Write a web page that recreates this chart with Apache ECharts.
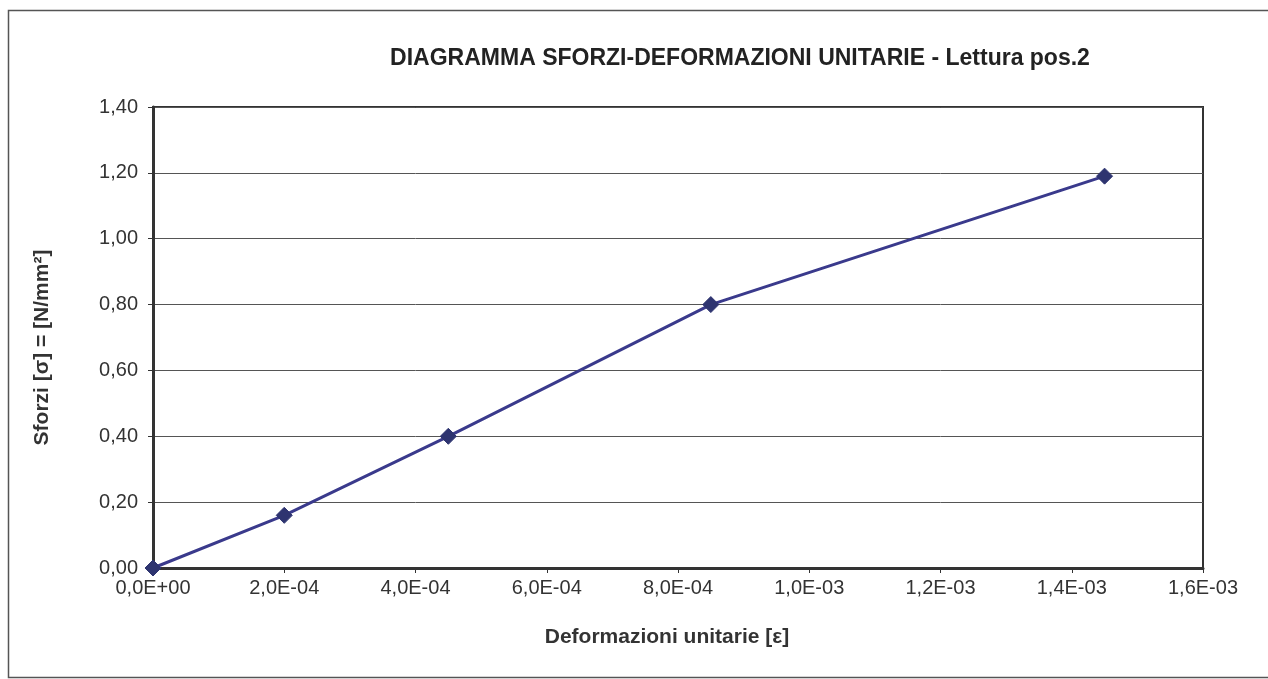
<!DOCTYPE html>
<html><head><meta charset="utf-8">
<script src="https://cdn.jsdelivr.net/npm/echarts@6/dist/echarts.min.js"></script>
<style>html,body{margin:0;padding:0;background:#fff;}#c{width:1268px;height:679px;}</style>
</head><body><div id="c"></div>
<script>
const strain = [0, 2.0e-4, 4.5e-4, 8.5e-4, 1.45e-3];
const stress = [0, 0.16, 0.40, 0.80, 1.19];
const titleText = 'DIAGRAMMA SFORZI-DEFORMAZIONI UNITARIE - Lettura pos.2';
const xName = 'Deformazioni unitarie [ε]';
const yName = 'Sforzi [σ] = [N/mm²]';

const chart = echarts.init(document.getElementById('c'));
const font = '"Liberation Sans", Arial, sans-serif';
function fmtX(v){
  if (v === 0) return '0,0E+00';
  const e = Math.floor(Math.log10(Math.abs(v)) + 1e-9);
  const m = v / Math.pow(10, e);
  const es = (e < 0 ? '-' : '+') + String(Math.abs(e)).padStart(2, '0');
  return m.toFixed(1).replace('.', ',') + 'E' + es;
}
chart.setOption({
  animation: false,
  backgroundColor: '#fff',
  graphic: [{type:'rect', shape:{x:8.5,y:10.5,width:1300,height:667}, style:{fill:'none', stroke:'#555', lineWidth:1.5}, silent:true}],
  title: {text: titleText, left: 735, top: 42, textAlign: 'center',
    textStyle: {fontFamily: font, fontSize: 23, fontWeight: 'bold', color: '#222'}},
  grid: {left: 153, top: 107, right: 1268-1203, bottom: 679-568, show: true, borderColor: '#333', borderWidth: 2, containLabel: false},
  xAxis: {type: 'value', min: 0, max: 1.6e-3, interval: 2e-4,
    name: xName, nameLocation: 'middle', nameGap: 59,
    nameTextStyle: {fontFamily: font, fontSize: 21, fontWeight: 'bold', color: '#333', padding: [0, 22, 0, 0]},
    axisLine: {show: true, onZero: false, lineStyle: {color: '#333', width: 3}},
    axisTick: {show: true, length: 5, lineStyle: {color: '#333', width: 1}},
    axisLabel: {formatter: fmtX, fontFamily: font, fontSize: 20, color: '#333', margin: 10},
    splitLine: {show: false}},
  yAxis: {type: 'value', min: 0, max: 1.4, interval: 0.2,
    name: yName, nameLocation: 'middle', nameGap: 100, nameRotate: 90,
    nameTextStyle: {fontFamily: font, fontSize: 21, fontWeight: 'bold', color: '#333', padding: [0, 20, 0, 0]},
    axisLine: {show: true, lineStyle: {color: '#333', width: 3}},
    axisTick: {show: true, length: 5, lineStyle: {color: '#333', width: 1}},
    axisLabel: {formatter: v => v.toFixed(2).replace('.', ','), fontFamily: font, fontSize: 20, color: '#333', margin: 15},
    splitLine: {show: true, lineStyle: {color: '#555', width: 1}}},
  series: [{type: 'line', data: strain.map((x, i) => [x, stress[i]]),
    symbol: 'diamond', symbolSize: 16,
    lineStyle: {color: '#3a3a8c', width: 3},
    itemStyle: {color: '#2e3470', borderColor: '#2e3470'}}]
});
</script></body></html>
